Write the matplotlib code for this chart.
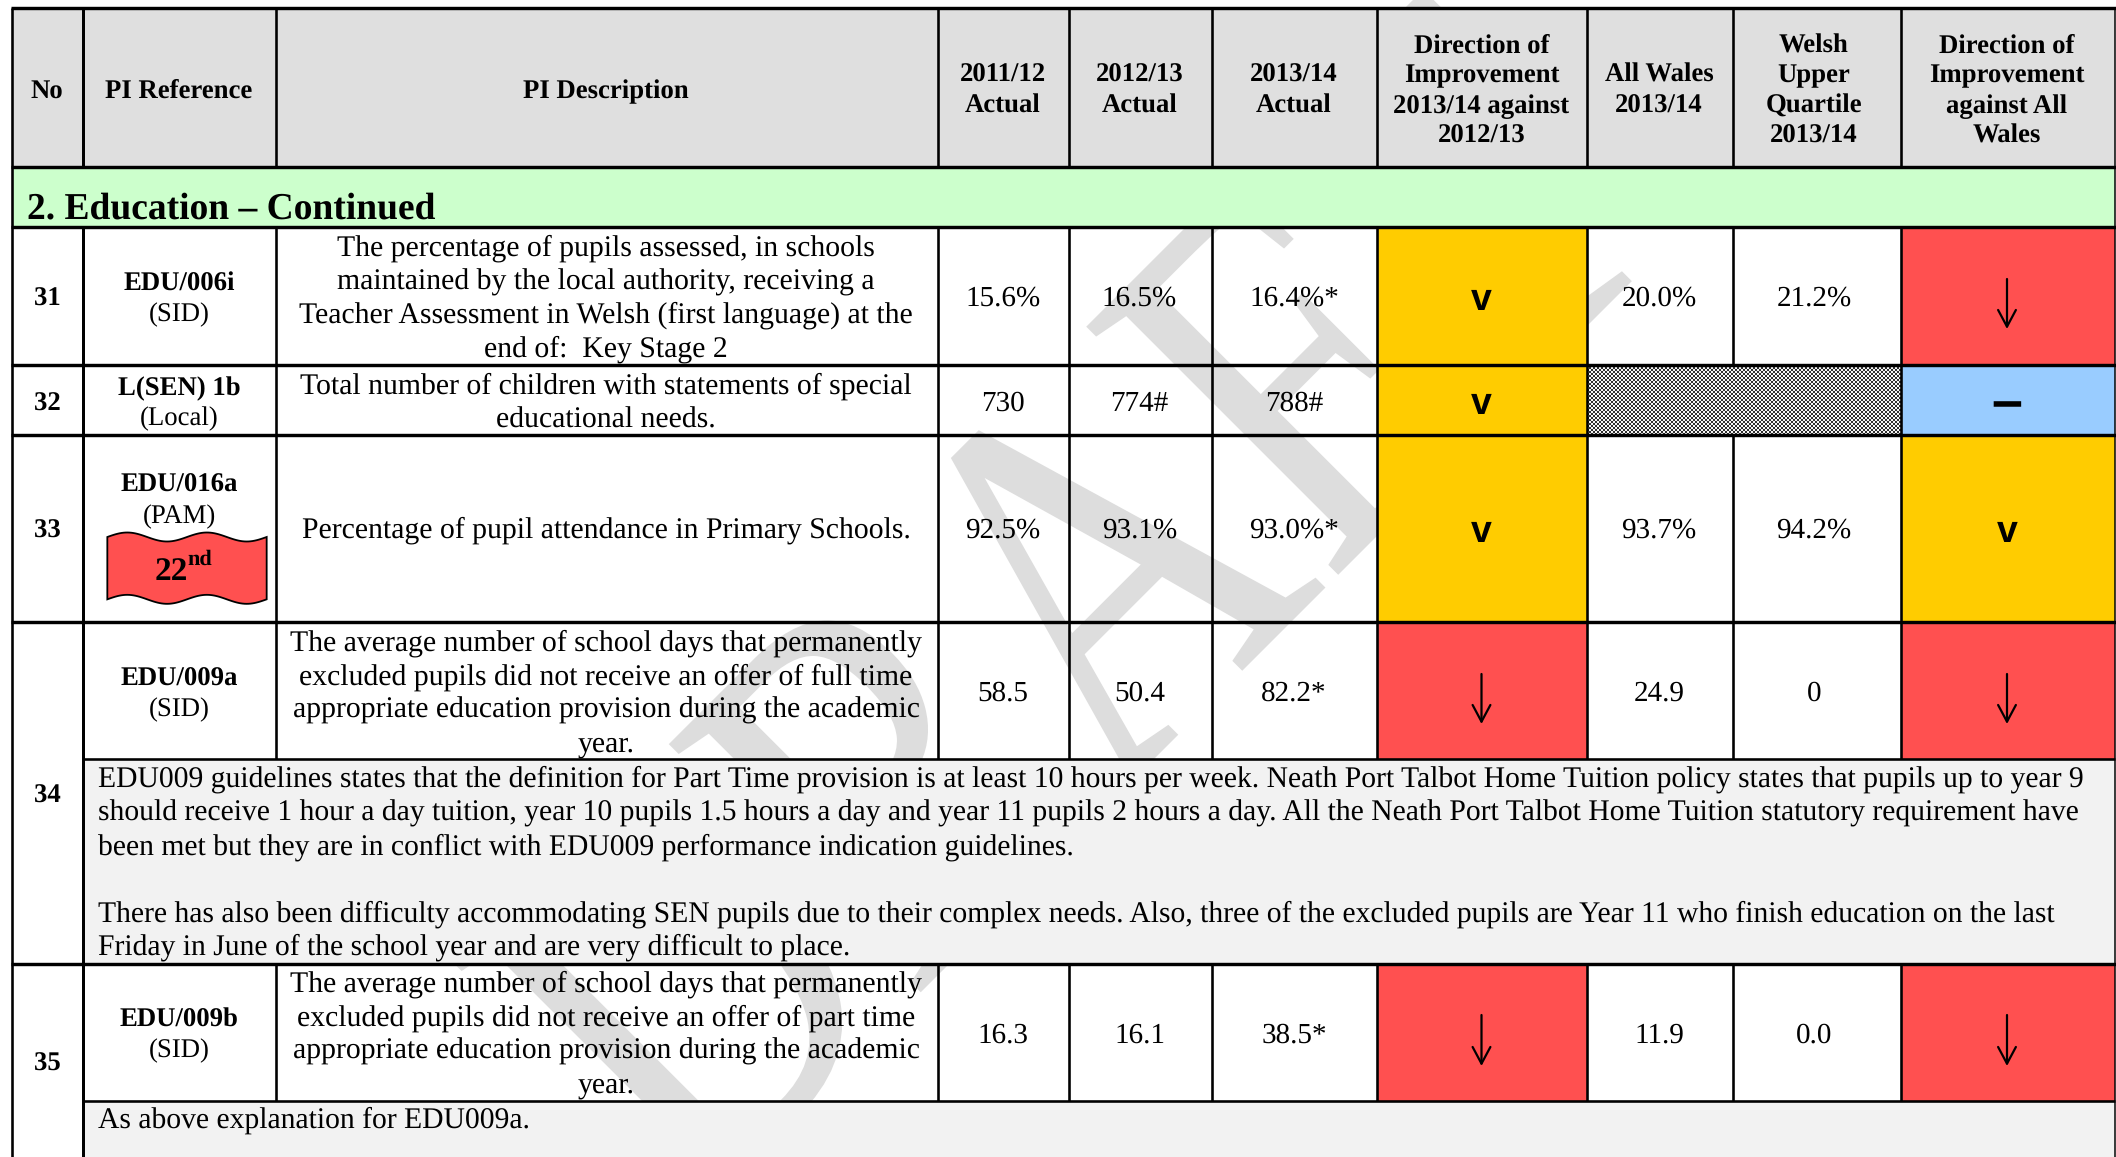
import numpy as np
import matplotlib
matplotlib.use("Agg")
import matplotlib.pyplot as plt
from matplotlib.patches import Rectangle, Polygon
from matplotlib.patheffects import AbstractPathEffect
from matplotlib.transforms import Affine2D

plt.rcParams["text.hinting"] = "no_hinting"
plt.rcParams["text.hinting_factor"] = 8

# ---- content ----
headers = [["No"], ["PI Reference"], ["PI Description"], ["2011/12", "Actual"], ["2012/13", "Actual"],
           ["2013/14", "Actual"], ["Direction of", "Improvement", "2013/14 against", "2012/13"],
           ["All Wales", "2013/14"], ["Welsh", "Upper", "Quartile", "2013/14"],
           ["Direction of", "Improvement", "against All", "Wales"]]
section_title = "2. Education – Continued"
numbers = ["31", "32", "33", "34", "35"]
refs = ["EDU/006i", "L(SEN) 1b", "EDU/016a", "EDU/009a", "EDU/009b"]
ref_types = ["(SID)", "(Local)", "(PAM)", "(SID)", "(SID)"]
descriptions = [
    ["The percentage of pupils assessed, in schools", "maintained by the local authority, receiving a",
     "Teacher Assessment in Welsh (first language) at the", "end of:  Key Stage 2"],
    ["Total number of children with statements of special", "educational needs."],
    ["Percentage of pupil attendance in Primary Schools."],
    ["The average number of school days that permanently", "excluded pupils did not receive an offer of full time",
     "appropriate education provision during the academic", "year."],
    ["The average number of school days that permanently", "excluded pupils did not receive an offer of part time",
     "appropriate education provision during the academic", "year."],
]
actual_2011 = ["15.6%", "730", "92.5%", "58.5", "16.3"]
actual_2012 = ["16.5%", "774#", "93.1%", "50.4", "16.1"]
actual_2013 = ["16.4%*", "788#", "93.0%*", "82.2*", "38.5*"]
all_wales = ["20.0%", None, "93.7%", "24.9", "11.9"]
upper_quartile = ["21.2%", None, "94.2%", "0", "0.0"]
direction_year = ["v", "v", "v", "down", "down"]
direction_wales = ["down", "dash", "v", "down", "down"]
rank_label = "22"
rank_suffix = "nd"
comment_34 = [
    "EDU009 guidelines states that the definition for Part Time provision is at least 10 hours per week. Neath Port Talbot Home Tuition policy states that pupils up to year 9",
    "should receive 1 hour a day tuition, year 10 pupils 1.5 hours a day and year 11 pupils 2 hours a day. All the Neath Port Talbot Home Tuition statutory requirement have",
    "been met but they are in conflict with EDU009 performance indication guidelines.",
    "",
    "There has also been difficulty accommodating SEN pupils due to their complex needs. Also, three of the excluded pupils are Year 11 who finish education on the last",
    "Friday in June of the school year and are very difficult to place.",
]
comment_35 = ["As above explanation for EDU009a."]
watermark = "DRAFT"

# ---- layout (pixels) ----
W, H = 2116, 1157
X = [11.5, 83, 275.5, 938, 1068.5, 1212, 1376.5, 1586.5, 1733, 1900.5, 2114.5]
CX = [47, 179, 606, 1003, 1139.5, 1294, 1481.5, 1659, 1814, 2007]
Y_HEAD, Y_SEC, Y_R31, Y_R32, Y_R33, Y_R34, Y_C34, Y_R35, Y_C35 = 8, 167, 227, 365, 435, 622, 759, 964, 1101
ROW_TOP = [227, 365, 435, 622, 964]
ROW_BOT = [365, 435, 622, 759, 1101]
NUM_BASE = [306, 411, 538, 803, 1071]
REF_BASE = [291, 395, 492, 686, 1027]
TYPE_BASE = [321, 425, 523, 716, 1057]
DESC_BASE = [256, 394, 538, 651, 992]
VAL_BASE = [306, 411, 538, 701, 1043]
V_BASE = [310, 413.5, 542, 0, 0]
ARROW_SPAN = [(279, 329), None, None, (674, 724), (1015, 1066)]
LSP = 33.5

RED, AMBER, BLUE = "#FF5050", "#FFCC00", "#99CCFF"
HEAD_BG, SEC_BG, NOTE_BG = "#DFDFDF", "#CCFFCC", "#F2F2F2"
FILL = {"v": AMBER, "down": RED, "dash": BLUE}
SERIF = "Liberation Serif"
FS_DESC = 21.38
FS_NOTE = 21.3
FS_VAL = 21.0
FS_H = 19.3

fig = plt.figure(figsize=(W / 100, H / 100), dpi=100, facecolor="white")
ax = fig.add_axes([0, 0, 1, 1])
ax.set_xlim(0, W)
ax.set_ylim(H, 0)
ax.axis("off")


class Warp(AbstractPathEffect):
    """Draw the text through an extra display-space transform."""

    def __init__(self, extra):
        super().__init__()
        self.extra = extra

    def draw_path(self, renderer, gc, tpath, affine, rgbFace=None):
        renderer.draw_path(gc, tpath, affine + self.extra, rgbFace)


# watermark, under everything; real text, stretched and rotated as the page watermark is
WM_SIZE_PT = 9
wm_px = WM_SIZE_PT * 100 / 72
anchor = (1003, 595)
em_x, em_y, wm_target = 425, 540, (1186, 727)
warp = (Affine2D().translate(-anchor[0], -(H - anchor[1])).scale(em_x / wm_px, em_y / wm_px)
        .rotate_deg(45).translate(wm_target[0], H - wm_target[1]))
ax.text(anchor[0], anchor[1], watermark, ha="center", va="baseline", family=SERIF, fontsize=WM_SIZE_PT,
        color="#DDDDDD", zorder=0.5, path_effects=[Warp(warp)], clip_on=False)


def box(x0, x1, y0, y1, c, z=1):
    ax.add_patch(Rectangle((x0, y0), x1 - x0, y1 - y0, fc=c, ec="none", zorder=z))


def t(x, y, s, size=FS_VAL, weight="normal", ha="center", family=SERIF, **kw):
    ax.text(x, y, s, ha=ha, va="baseline", fontsize=size, fontweight=weight, family=family, color="black", zorder=5, **kw)


def vline(x, y0, y1, lw=2.2):
    ax.plot([x, x], [y0, y1], color="black", lw=lw * 0.72, solid_capstyle="butt", zorder=4)


def hline(x0, x1, y, lw=3.2):
    ax.plot([x0, x1], [y, y], color="black", lw=lw * 0.72, solid_capstyle="butt", zorder=4)


# fills
box(X[0], X[-1], Y_HEAD, Y_SEC, HEAD_BG)
box(X[0], X[-1], Y_SEC, Y_R31, SEC_BG)
box(X[1], X[-1], Y_C34, Y_R35, NOTE_BG)
box(X[1], X[-1], Y_C35, H, NOTE_BG)
for i in range(5):
    for kind, col in ((direction_year[i], 6), (direction_wales[i], 9)):
        box(X[col], X[col + 1], ROW_TOP[i], ROW_BOT[i], FILL[kind])
# patterned (no data) cell
n_x, n_y = int((X[9] - X[7]) / 2), int((ROW_BOT[1] - ROW_TOP[1]) / 2)
checker = np.indices((n_y, n_x)).sum(axis=0) % 2
ax.imshow(checker, extent=(X[7], X[9], ROW_BOT[1], ROW_TOP[1]), cmap="gray", vmin=-0.25, vmax=1.05,
          interpolation="nearest", aspect="auto", zorder=2)
ax.set_xlim(0, W)
ax.set_ylim(H, 0)

# header text
HEAD_BASES = {1: [98], 2: [82, 113], 4: [52.5, 82.5, 113, 143]}
for cx, lines in zip(CX, headers):
    for y, s in zip(HEAD_BASES[len(lines)], lines):
        t(cx, y, s, size=FS_H, weight="bold")
t(27, 218, section_title, size=27, weight="bold", ha="left")

# rows
for i in range(5):
    t(CX[0], NUM_BASE[i], numbers[i], weight="bold", size=FS_H)
    t(CX[1], REF_BASE[i], refs[i], weight="bold", size=FS_H)
    t(CX[1], TYPE_BASE[i], ref_types[i], size=FS_H)
    for k, s in enumerate(descriptions[i]):
        t(CX[2], DESC_BASE[i] + k * LSP, s, size=FS_DESC)
    for col, series in ((3, actual_2011), (4, actual_2012), (5, actual_2013), (7, all_wales), (8, upper_quartile)):
        if series[i] is not None:
            t(CX[col], VAL_BASE[i], series[i])
    for kind, col in ((direction_year[i], 6), (direction_wales[i], 9)):
        if kind == "v":
            t(CX[col], V_BASE[i], "v", size=27, weight="bold", family="Liberation Sans")
        elif kind == "dash":
            t(CX[col], 419, "–", size=40, weight="bold", family="Liberation Sans")
        else:
            y0, y1 = ARROW_SPAN[i]
            ax.annotate("", xy=(CX[col], y1), xytext=(CX[col], y0), zorder=5,
                        arrowprops=dict(arrowstyle="->,head_length=0.6,head_width=0.32", mutation_scale=20,
                                        lw=1.6, color="black", shrinkA=0, shrinkB=0))

# rank banner
xz = np.linspace(52, 530, 80)
top = 111 - 13.5 * np.sin(4 * np.pi * (xz - 52) / 478)
bx, ty, by = 90 + xz / 3, 500 + top / 3, 500 + (top + 187) / 3
ax.add_patch(Polygon(np.r_[np.c_[bx, ty], np.c_[bx, by][::-1]], closed=True, fc=RED, ec="black", lw=1.3, zorder=3))
t(155, 580, rank_label, size=24, weight="bold", ha="left")
t(187, 565, rank_suffix, size=16, weight="bold", ha="left")

# comments
for k, s in enumerate(comment_34):
    if s:
        t(98, 787 + k * 33.6, s, ha="left", size=FS_NOTE)
for k, s in enumerate(comment_35):
    t(98, 1128 + k * 33.6, s, ha="left", size=FS_NOTE)

# grid
for y in (Y_HEAD, Y_SEC, Y_R31, Y_R32, Y_R33, Y_R34, Y_R35):
    hline(X[0] - 1, X[-1] + 1, y, 3.4)
hline(X[1], X[-1], Y_C34, 2.6)
hline(X[1], X[-1], Y_C35, 2.6)
vline(X[0], Y_HEAD, H, 2.6)
vline(X[-1], Y_HEAD, H, 1.5)
vline(X[1], Y_HEAD, Y_SEC, 3)
vline(X[1], Y_R31, H, 3)
for i in range(2, len(X) - 1):
    x = X[i]
    vline(x, Y_HEAD, Y_SEC, 2.6)
    vline(x, Y_R35, Y_C35, 2.6)
    if i == 8:  # merged over row 32
        vline(x, Y_R31, Y_R32, 2.6)
        vline(x, Y_R33, Y_C34, 2.6)
    else:
        vline(x, Y_R31, Y_C34, 2.6)

fig.savefig("out.png", dpi=100, facecolor="white")
